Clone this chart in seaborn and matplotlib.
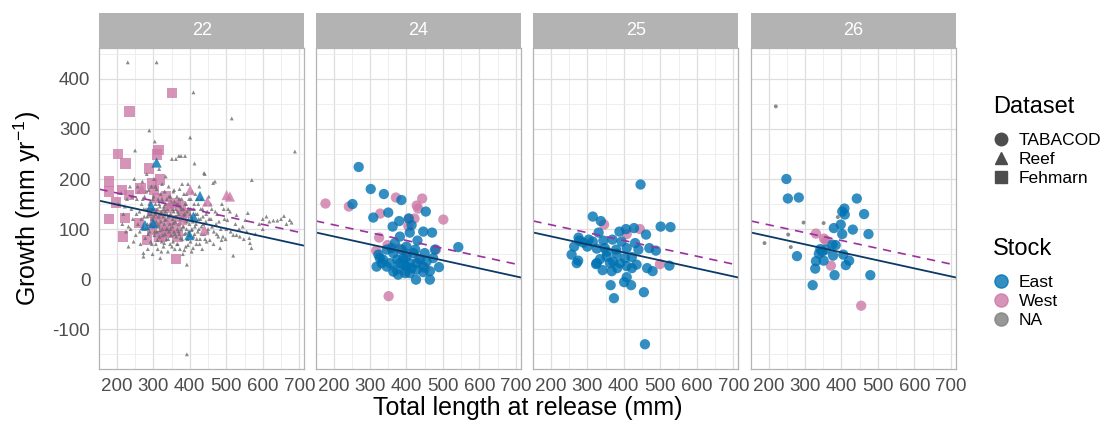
import matplotlib
matplotlib.use("Agg")
import matplotlib.pyplot as plt
import seaborn as sns
import pandas as pd
from matplotlib.lines import Line2D
from matplotlib.patches import Rectangle
from matplotlib.ticker import MultipleLocator

# ---------------- data ----------------
areas = ["22", "24", "25", "26"]
stock_order = ["East", "West", "NA"]
dataset_order = ["TABACOD", "Reef", "Fehmarn"]
x_ticks = [200, 300, 400, 500, 600, 700]
y_ticks = [-100, 0, 100, 200, 300, 400]

# area 22
a22_west_fehmarn = [(351, 372), (235, 335), (203, 250), (224, 231), (288, 221), (314, 258), (310, 249),
                    (178, 195), (178, 175), (215, 178), (233, 168), (198, 153), (178, 120), (222, 122),
                    (216, 85), (319, 199), (297, 191), (265, 181), (334, 165), (302, 178), (311, 162),
                    (361, 152), (343, 142), (375, 145), (297, 132), (320, 128), (306, 115), (329, 108),
                    (352, 118), (379, 125), (283, 78), (315, 85), (334, 95), (361, 102), (366, 85),
                    (388, 132), (343, 92), (297, 98), (362, 40), (324, 85), (261, 112)]
a22_west_reef = [(401, 178), (448, 155), (501, 168), (510, 165), (440, 98), (268, 180), (345, 150), (380, 118)]
a22_east_reef = [(309, 233), (428, 166), (277, 108), (300, 112), (399, 88), (294, 146), (410, 125)]
a22_na_reef = [(205, 150), (212, 172), (218, 130), (225, 95), (228, 160), (232, 65), (232, 105), (236, 185),
               (240, 140), (244, 120), (248, 200), (250, 257), (252, 88), (255, 160), (258, 110), (260, 175),
               (262, 135), (265, 70), (268, 150), (270, 195), (272, 100), (273, 45), (273, 52), (275, 125),
               (276, 165), (278, 82), (280, 140), (282, 210), (284, 110), (285, 60), (287, 178), (288, 130),
               (289, 297), (290, 95), (292, 155), (293, 75), (295, 185), (296, 120), (297, 140), (298, 50),
               (300, 105), (301, 165), (302, 200), (303, 88), (304, 275), (305, 130), (306, 150), (307, 70),
               (308, 115), (309, 180), (310, 95), (311, 140), (312, 60), (313, 160), (314, 125), (315, 105),
               (316, 220), (317, 85), (318, 145), (319, 42), (320, 170), (321, 115), (322, 135), (323, 75),
               (324, 190), (325, 100), (326, 155), (327, 125), (328, 65), (329, 145), (330, 110), (331, 175),
               (332, 90), (333, 135), (334, 205), (335, 120), (336, 80), (337, 160), (338, 100), (339, 140),
               (340, 55), (341, 125), (342, 185), (343, 95), (344, 150), (345, 110), (346, 70), (347, 165),
               (348, 130), (349, 88), (350, 145), (351, 240), (352, 105), (353, 120), (354, 75), (355, 175),
               (356, 135), (357, 95), (358, 155), (359, 60), (360, 115), (361, 140), (362, 240), (363, 85),
               (364, 125), (365, 165), (366, 100), (367, 70), (368, 150), (369, 110), (370, 246), (370, 130),
               (371, 90), (372, 180), (373, 60), (374, 120), (375, 145), (376, 246), (377, 100), (378, 160),
               (379, 80), (380, 125), (381, 50), (382, 140), (383, 105), (384, 170), (385, 90), (386, 130),
               (387, 246), (388, 115), (389, 65), (390, 150), (391, 100), (392, 29), (393, 135), (394, 80),
               (395, 190), (396, 120), (397, 95), (398, 160), (399, 110), (401, 283), (402, 75), (403, 140),
               (404, 125), (405, 55), (406, 100), (407, 175), (408, 115), (410, 85), (410, 373), (412, 150),
               (413, 231), (414, 105), (416, 130), (418, 70), (420, 160), (422, 95), (424, 120), (426, 185),
               (428, 80), (430, 140), (432, 105), (434, 60), (436, 125), (439, 212), (440, 90), (441, 210),
               (442, 150), (444, 115), (446, 75), (448, 135), (450, 100), (452, 165), (455, 78), (458, 120),
               (460, 140), (464, 192), (466, 95), (469, 195), (472, 110), (475, 130), (478, 85), (483, 62),
               (487, 78), (488, 150), (491, 85), (495, 120), (500, 100), (505, 140), (510, 135), (515, 321),
               (519, 88), (519, 47), (528, 128), (528, 88), (537, 85), (545, 105), (556, 95), (559, 132),
               (563, 82), (565, 72), (569, 62), (570, 198), (590, 110), (618, 115), (629, 117), (640, 117),
               (658, 126), (674, 118), (679, 113), (688, 255), (230, 433), (309, 433), (392, -150),
               (215, 110), (222, 145), (238, 100), (242, 165), (246, 75), (254, 130), (257, 185), (263, 95),
               (267, 120), (271, 160), (274, 140), (279, 100), (281, 175), (283, 125), (286, 90), (289, 150),
               (291, 110), (294, 130), (296, 70), (299, 160), (301, 125), (304, 95), (306, 185), (308, 135),
               (311, 78), (313, 110), (316, 150), (318, 98), (320, 130), (322, 55), (324, 160), (326, 88),
               (328, 140), (330, 72), (332, 118), (334, 150), (336, 100), (338, 130), (341, 80), (343, 165),
               (345, 128), (347, 100), (349, 155), (351, 65), (353, 140), (355, 112), (357, 178), (359, 90),
               (361, 125), (363, 150), (365, 70), (367, 135), (369, 95), (371, 160), (373, 112), (375, 82),
               (377, 140), (379, 190), (381, 105), (383, 128), (385, 58), (387, 150), (389, 92), (391, 170),
               (393, 115), (395, 68), (397, 140), (399, 88), (401, 130), (403, 160), (405, 98), (407, 120),
               (409, 62), (411, 140), (413, 90), (415, 170), (417, 110), (419, 80), (421, 130), (423, 150),
               (425, 100), (427, 70), (429, 120), (431, 160), (433, 90), (435, 140), (437, 110), (442, 80),
               (445, 130), (449, 95), (453, 120), (457, 150), (461, 105), (465, 70), (470, 135), (474, 90),
               (480, 115), (485, 100), (493, 140), (498, 80), (503, 118), (512, 95), (525, 110), (535, 100),
               (548, 80), (552, 118), (580, 90), (600, 100), (610, 125), (650, 120), (665, 110), (600, 120)]

# area 24
a24_east_tabacod = [(269, 224), (302, 180), (338, 170), (252, 150), (386, 158), (350, 133), (309, 123),
                    (453, 135), (362, 105), (380, 116), (406, 121), (414, 108), (446, 95), (470, 93),
                    (430, 77), (409, 93), (382, 85), (542, 64), (478, 59), (450, 52), (424, 59), (400, 65),
                    (368, 72), (346, 59), (327, 42), (318, 25), (355, 32), (373, 19), (400, 25), (428, 19),
                    (464, 16), (489, 24), (426, -1), (464, -1), (364, 52), (391, 42), (409, 32), (382, 32),
                    (346, 25), (332, 32), (437, 39), (446, 25), (377, 9), (396, 12), (364, 15), (409, 12),
                    (428, 32), (323, 49), (473, 42), (455, 35), (400, 45), (419, 52), (359, 62), (387, 59),
                    (336, 39), (375, 39), (393, 29), (414, 22), (446, 14)]
a24_west_tabacod = [(178, 151), (242, 145), (371, 163), (443, 161), (428, 147), (432, 141), (328, 131),
                    (501, 119), (407, 121), (422, 121), (405, 106), (325, 83), (317, 57), (348, 68),
                    (380, 61), (433, 41), (451, 22), (481, 59), (398, 16), (351, -34), (400, 51)]

# area 25
a25_east_tabacod = [(446, 189), (458, -130), (315, 125), (337, 116), (331, 93), (501, 105), (528, 104),
                    (461, 89), (428, 102), (406, 100), (388, 95), (276, 83), (278, 77), (304, 79), (315, 75),
                    (344, 77), (369, 79), (394, 75), (431, 72), (470, 62), (488, 57), (264, 65), (300, 65),
                    (326, 61), (353, 55), (379, 59), (408, 62), (440, 59), (257, 49), (275, 37), (271, 32),
                    (326, 32), (335, 40), (353, 45), (371, 35), (380, 51), (403, 42), (422, 44), (390, 32),
                    (408, 26), (435, 29), (362, 32), (342, 18), (367, 16), (382, 22), (422, 22), (464, 22),
                    (479, 16), (525, 27), (408, 4), (401, -6), (420, -12), (364, -12), (373, -38), (455, -26),
                    (324, 30), (348, 62), (289, 73)]
a25_west_tabacod = [(346, 109), (408, 90), (444, 100), (499, 30)]

# area 26
a26_east_tabacod = [(249, 200), (253, 161), (283, 163), (442, 161), (408, 141), (402, 135), (409, 129),
                    (462, 130), (398, 109), (379, 102), (431, 99), (402, 90), (474, 90), (342, 60),
                    (375, 69), (384, 68), (347, 55), (338, 51), (377, 47), (405, 49), (421, 37), (351, 37),
                    (330, 36), (278, 46), (412, 28), (328, 21), (381, 8), (479, 8), (321, -12), (357, 59)]
a26_west_tabacod = [(330, 91), (352, 81), (358, 77), (371, 27), (454, -53)]
a26_na_tabacod = [(220, 345), (189, 72), (254, 89), (261, 64), (296, 113), (351, 112), (390, 124)]

# fitted lines: growth = intercept + slope * length
fit_slope = {"East": -0.160, "West": -0.157}
fit_intercept_east = {"22": 181.0, "24": 117.5, "25": 117.5, "26": 117.5}
fit_intercept_west = {"22": 203.5, "24": 140.0, "25": 140.0, "26": 140.0}

groups = [
    ("22", "West", "Fehmarn", a22_west_fehmarn),
    ("22", "NA", "Reef", a22_na_reef),
    ("22", "West", "Reef", a22_west_reef),
    ("22", "East", "Reef", a22_east_reef),
    ("24", "West", "TABACOD", a24_west_tabacod),
    ("24", "East", "TABACOD", a24_east_tabacod),
    ("25", "West", "TABACOD", a25_west_tabacod),
    ("25", "East", "TABACOD", a25_east_tabacod),
    ("26", "NA", "TABACOD", a26_na_tabacod),
    ("26", "West", "TABACOD", a26_west_tabacod),
    ("26", "East", "TABACOD", a26_east_tabacod),
]
rows = []
for area, stock, ds, pts in groups:
    for x, y in pts:
        rows.append({"Area": area, "Stock": stock, "Dataset": ds, "Length": x, "Growth": y})
df = pd.DataFrame(rows)

# ---------------- styling ----------------
sns.set_theme(style="white")
plt.rcParams["font.family"] = ["Liberation Sans", "DejaVu Sans"]
plt.rcParams["mathtext.default"] = "regular"
plt.rcParams["axes.unicode_minus"] = False

palette = {"East": "#0072B2", "West": "#CC79A7", "NA": "#6e6e6e"}
markers = {"TABACOD": "o", "Reef": "^", "Fehmarn": "s"}
sizes = {"East": 55, "West": 55, "NA": 8}

W, H = 1110, 426
fig = plt.figure(figsize=(W / 100, H / 100), dpi=100)

panel_left_px = [99.3, 316.0, 533.3, 751.0]
panel_w_px = 204.7
top_px, bot_px = 48.3, 369.3
strip_h_px = 35.6

for i, area in enumerate(areas):
    ax = fig.add_axes([panel_left_px[i] / W, 1 - bot_px / H, panel_w_px / W, (bot_px - top_px) / H])
    sub = df[df["Area"] == area]
    ax.grid(which="major", color="#dedede", linewidth=0.9)
    ax.grid(which="minor", color="#ebebeb", linewidth=0.6)
    ax.set_axisbelow(True)
    sns.scatterplot(data=sub, x="Length", y="Growth", hue="Stock", style="Dataset", size="Stock",
                    hue_order=stock_order, style_order=dataset_order, size_order=stock_order,
                    palette=palette, markers=markers, sizes=sizes, alpha=0.8, linewidth=0,
                    legend=False, ax=ax)
    ax.axline((0, fit_intercept_east[area]), slope=fit_slope["East"], color="#0b3a66", lw=1.3)
    ax.axline((0, fit_intercept_west[area]), slope=fit_slope["West"], color="#9b30a0", lw=1.2,
              linestyle=(0, (5, 4)))
    ax.set_xticks(x_ticks)
    ax.set_yticks(y_ticks)
    ax.xaxis.set_minor_locator(MultipleLocator(50))
    ax.yaxis.set_minor_locator(MultipleLocator(50))
    ax.set_xlim(152, 713)
    ax.set_ylim(-180, 461)
    ax.set_xlabel("")
    ax.set_ylabel("")
    ax.tick_params(axis="both", which="major", length=3.5, width=0.8, color="#b3b3b3",
                   labelsize=13.5, labelcolor="#4d4d4d", pad=3)
    ax.tick_params(axis="both", which="minor", length=0)
    if i > 0:
        ax.tick_params(axis="y", which="major", length=0, labelleft=False)
    for s in ax.spines.values():
        s.set_color("#b3b3b3")
        s.set_linewidth(0.9)
        s.set_visible(True)
    sh = strip_h_px / (bot_px - top_px)
    ax.add_patch(Rectangle((0, 1), 1, sh, transform=ax.transAxes, clip_on=False,
                           facecolor="#b3b3b3", edgecolor="none"))
    ax.text(0.5, 1 + sh / 2, area, transform=ax.transAxes, ha="center", va="center",
            color="white", fontsize=13)

mid_y = 1 - (top_px + bot_px) / 2 / H
fig.text(27 / W, mid_y, "Growth (mm yr$^{-1}$)", rotation=90, ha="center", va="center",
         fontsize=18, color="black")
fig.text((panel_left_px[0] + panel_left_px[3] + panel_w_px) / 2 / W, 1 - 408 / H,
         "Total length at release (mm)", ha="center", va="center", fontsize=18, color="black")

ds_handles = [Line2D([], [], marker=markers[d], color="#4d4d4d", linestyle="", markersize=9)
              for d in dataset_order]
st_handles = [Line2D([], [], marker="o", color=palette[s] if s != "NA" else "#7f7f7f", alpha=0.8,
                     linestyle="", markersize=9.5)
              for s in stock_order]
leg_kw = dict(loc="upper left", frameon=False, fontsize=12.5, title_fontsize=17,
              handletextpad=0.5, labelspacing=0.22, borderpad=0, handlelength=1.0, alignment="left",
              labelcolor="black")
leg1 = fig.legend(ds_handles, dataset_order, title="Dataset",
                  bbox_to_anchor=(984 / W, 1 - 87 / H), **leg_kw)
leg2 = fig.legend(st_handles, stock_order, title="Stock",
                  bbox_to_anchor=(984 / W, 1 - 229 / H), **leg_kw)
for leg in (leg1, leg2):
    leg._legend_box.sep = 11
    leg.get_title().set_color("black")

fig.savefig("out.png", dpi=100)
